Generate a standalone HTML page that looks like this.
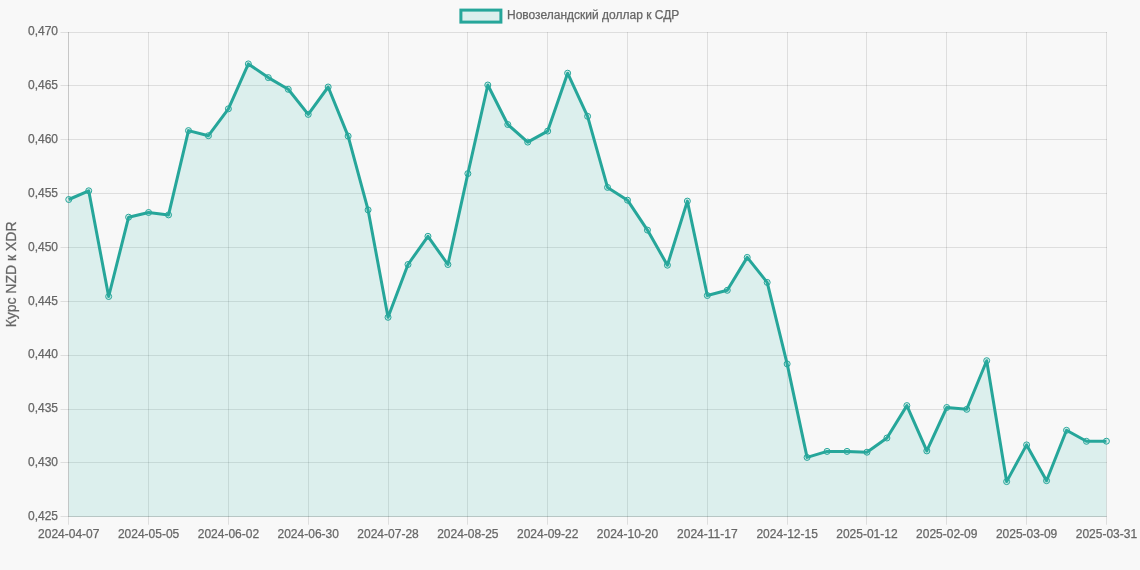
<!DOCTYPE html>
<html><head><meta charset="utf-8"><style>
html,body{margin:0;padding:0;background:#f8f8f8;width:1140px;height:570px;overflow:hidden}
svg{display:block;will-change:transform}
.t{font-family:"Liberation Sans",sans-serif;font-size:12px;fill:#666;stroke:#666;stroke-width:0.25px}
.ti{font-family:"Liberation Sans",sans-serif;font-size:14px;fill:#666;stroke:#666;stroke-width:0.25px}
</style></head><body>
<svg width="1140" height="570" viewBox="0 0 1140 570">
<rect x="0" y="0" width="1140" height="570" fill="#f8f8f8"/>
<rect x="60.5" y="32" width="1046.5" height="1" fill="rgba(0,0,0,0.1)"/>
<rect x="60.5" y="85" width="1046.5" height="1" fill="rgba(0,0,0,0.1)"/>
<rect x="60.5" y="139" width="1046.5" height="1" fill="rgba(0,0,0,0.1)"/>
<rect x="60.5" y="193" width="1046.5" height="1" fill="rgba(0,0,0,0.1)"/>
<rect x="60.5" y="247" width="1046.5" height="1" fill="rgba(0,0,0,0.1)"/>
<rect x="60.5" y="301" width="1046.5" height="1" fill="rgba(0,0,0,0.1)"/>
<rect x="60.5" y="355" width="1046.5" height="1" fill="rgba(0,0,0,0.1)"/>
<rect x="60.5" y="409" width="1046.5" height="1" fill="rgba(0,0,0,0.1)"/>
<rect x="60.5" y="462" width="1046.5" height="1" fill="rgba(0,0,0,0.1)"/>
<rect x="60.5" y="516" width="1046.5" height="1" fill="rgba(0,0,0,0.1)"/>
<rect x="68" y="32" width="1" height="492.75" fill="rgba(0,0,0,0.1)"/>
<rect x="148" y="32" width="1" height="492.75" fill="rgba(0,0,0,0.1)"/>
<rect x="228" y="32" width="1" height="492.75" fill="rgba(0,0,0,0.1)"/>
<rect x="308" y="32" width="1" height="492.75" fill="rgba(0,0,0,0.1)"/>
<rect x="388" y="32" width="1" height="492.75" fill="rgba(0,0,0,0.1)"/>
<rect x="467" y="32" width="1" height="492.75" fill="rgba(0,0,0,0.1)"/>
<rect x="547" y="32" width="1" height="492.75" fill="rgba(0,0,0,0.1)"/>
<rect x="627" y="32" width="1" height="492.75" fill="rgba(0,0,0,0.1)"/>
<rect x="707" y="32" width="1" height="492.75" fill="rgba(0,0,0,0.1)"/>
<rect x="787" y="32" width="1" height="492.75" fill="rgba(0,0,0,0.1)"/>
<rect x="866" y="32" width="1" height="492.75" fill="rgba(0,0,0,0.1)"/>
<rect x="946" y="32" width="1" height="492.75" fill="rgba(0,0,0,0.1)"/>
<rect x="1026" y="32" width="1" height="492.75" fill="rgba(0,0,0,0.1)"/>
<rect x="1106" y="32" width="1" height="492.75" fill="rgba(0,0,0,0.1)"/>
<rect x="68" y="32.08" width="1" height="484.69" fill="rgba(0,0,0,0.1)"/>
<rect x="68.76" y="516" width="1037.66" height="1" fill="rgba(0,0,0,0.1)"/>
<polygon points="68.76,516.775 68.76,199.50 88.72,190.80 108.67,296.50 128.62,217.20 148.58,212.50 168.53,214.90 188.49,130.60 208.44,135.70 228.40,108.80 248.35,63.90 268.31,77.60 288.26,89.30 308.22,114.40 328.17,87.00 348.13,136.10 368.08,209.90 388.04,317.30 407.99,264.50 427.95,236.30 447.90,264.50 467.86,173.60 487.81,85.00 507.77,124.50 527.73,142.10 547.68,131.10 567.63,73.20 587.59,116.30 607.54,187.40 627.50,200.20 647.45,230.10 667.41,265.20 687.36,201.10 707.32,295.50 727.27,290.30 747.23,257.40 767.18,282.40 787.14,363.90 807.09,457.40 827.05,451.40 847.00,451.40 866.96,452.20 886.91,438.00 906.87,405.60 926.82,450.90 946.78,407.50 966.73,409.30 986.69,360.70 1006.64,481.60 1026.60,444.90 1046.56,480.70 1066.51,430.30 1086.46,441.30 1106.42,441.20 1106.42,516.775" fill="rgba(61,188,175,0.15)"/>
<polyline points="68.76,199.50 88.72,190.80 108.67,296.50 128.62,217.20 148.58,212.50 168.53,214.90 188.49,130.60 208.44,135.70 228.40,108.80 248.35,63.90 268.31,77.60 288.26,89.30 308.22,114.40 328.17,87.00 348.13,136.10 368.08,209.90 388.04,317.30 407.99,264.50 427.95,236.30 447.90,264.50 467.86,173.60 487.81,85.00 507.77,124.50 527.73,142.10 547.68,131.10 567.63,73.20 587.59,116.30 607.54,187.40 627.50,200.20 647.45,230.10 667.41,265.20 687.36,201.10 707.32,295.50 727.27,290.30 747.23,257.40 767.18,282.40 787.14,363.90 807.09,457.40 827.05,451.40 847.00,451.40 866.96,452.20 886.91,438.00 906.87,405.60 926.82,450.90 946.78,407.50 966.73,409.30 986.69,360.70 1006.64,481.60 1026.60,444.90 1046.56,480.70 1066.51,430.30 1086.46,441.30 1106.42,441.20" fill="none" stroke="rgb(38,166,154)" stroke-width="3" stroke-linejoin="round"/>
<circle cx="68.76" cy="199.50" r="3" fill="rgba(61,188,175,0.15)" stroke="rgb(38,166,154)" stroke-width="1"/>
<circle cx="88.72" cy="190.80" r="3" fill="rgba(61,188,175,0.15)" stroke="rgb(38,166,154)" stroke-width="1"/>
<circle cx="108.67" cy="296.50" r="3" fill="rgba(61,188,175,0.15)" stroke="rgb(38,166,154)" stroke-width="1"/>
<circle cx="128.62" cy="217.20" r="3" fill="rgba(61,188,175,0.15)" stroke="rgb(38,166,154)" stroke-width="1"/>
<circle cx="148.58" cy="212.50" r="3" fill="rgba(61,188,175,0.15)" stroke="rgb(38,166,154)" stroke-width="1"/>
<circle cx="168.53" cy="214.90" r="3" fill="rgba(61,188,175,0.15)" stroke="rgb(38,166,154)" stroke-width="1"/>
<circle cx="188.49" cy="130.60" r="3" fill="rgba(61,188,175,0.15)" stroke="rgb(38,166,154)" stroke-width="1"/>
<circle cx="208.44" cy="135.70" r="3" fill="rgba(61,188,175,0.15)" stroke="rgb(38,166,154)" stroke-width="1"/>
<circle cx="228.40" cy="108.80" r="3" fill="rgba(61,188,175,0.15)" stroke="rgb(38,166,154)" stroke-width="1"/>
<circle cx="248.35" cy="63.90" r="3" fill="rgba(61,188,175,0.15)" stroke="rgb(38,166,154)" stroke-width="1"/>
<circle cx="268.31" cy="77.60" r="3" fill="rgba(61,188,175,0.15)" stroke="rgb(38,166,154)" stroke-width="1"/>
<circle cx="288.26" cy="89.30" r="3" fill="rgba(61,188,175,0.15)" stroke="rgb(38,166,154)" stroke-width="1"/>
<circle cx="308.22" cy="114.40" r="3" fill="rgba(61,188,175,0.15)" stroke="rgb(38,166,154)" stroke-width="1"/>
<circle cx="328.17" cy="87.00" r="3" fill="rgba(61,188,175,0.15)" stroke="rgb(38,166,154)" stroke-width="1"/>
<circle cx="348.13" cy="136.10" r="3" fill="rgba(61,188,175,0.15)" stroke="rgb(38,166,154)" stroke-width="1"/>
<circle cx="368.08" cy="209.90" r="3" fill="rgba(61,188,175,0.15)" stroke="rgb(38,166,154)" stroke-width="1"/>
<circle cx="388.04" cy="317.30" r="3" fill="rgba(61,188,175,0.15)" stroke="rgb(38,166,154)" stroke-width="1"/>
<circle cx="407.99" cy="264.50" r="3" fill="rgba(61,188,175,0.15)" stroke="rgb(38,166,154)" stroke-width="1"/>
<circle cx="427.95" cy="236.30" r="3" fill="rgba(61,188,175,0.15)" stroke="rgb(38,166,154)" stroke-width="1"/>
<circle cx="447.90" cy="264.50" r="3" fill="rgba(61,188,175,0.15)" stroke="rgb(38,166,154)" stroke-width="1"/>
<circle cx="467.86" cy="173.60" r="3" fill="rgba(61,188,175,0.15)" stroke="rgb(38,166,154)" stroke-width="1"/>
<circle cx="487.81" cy="85.00" r="3" fill="rgba(61,188,175,0.15)" stroke="rgb(38,166,154)" stroke-width="1"/>
<circle cx="507.77" cy="124.50" r="3" fill="rgba(61,188,175,0.15)" stroke="rgb(38,166,154)" stroke-width="1"/>
<circle cx="527.73" cy="142.10" r="3" fill="rgba(61,188,175,0.15)" stroke="rgb(38,166,154)" stroke-width="1"/>
<circle cx="547.68" cy="131.10" r="3" fill="rgba(61,188,175,0.15)" stroke="rgb(38,166,154)" stroke-width="1"/>
<circle cx="567.63" cy="73.20" r="3" fill="rgba(61,188,175,0.15)" stroke="rgb(38,166,154)" stroke-width="1"/>
<circle cx="587.59" cy="116.30" r="3" fill="rgba(61,188,175,0.15)" stroke="rgb(38,166,154)" stroke-width="1"/>
<circle cx="607.54" cy="187.40" r="3" fill="rgba(61,188,175,0.15)" stroke="rgb(38,166,154)" stroke-width="1"/>
<circle cx="627.50" cy="200.20" r="3" fill="rgba(61,188,175,0.15)" stroke="rgb(38,166,154)" stroke-width="1"/>
<circle cx="647.45" cy="230.10" r="3" fill="rgba(61,188,175,0.15)" stroke="rgb(38,166,154)" stroke-width="1"/>
<circle cx="667.41" cy="265.20" r="3" fill="rgba(61,188,175,0.15)" stroke="rgb(38,166,154)" stroke-width="1"/>
<circle cx="687.36" cy="201.10" r="3" fill="rgba(61,188,175,0.15)" stroke="rgb(38,166,154)" stroke-width="1"/>
<circle cx="707.32" cy="295.50" r="3" fill="rgba(61,188,175,0.15)" stroke="rgb(38,166,154)" stroke-width="1"/>
<circle cx="727.27" cy="290.30" r="3" fill="rgba(61,188,175,0.15)" stroke="rgb(38,166,154)" stroke-width="1"/>
<circle cx="747.23" cy="257.40" r="3" fill="rgba(61,188,175,0.15)" stroke="rgb(38,166,154)" stroke-width="1"/>
<circle cx="767.18" cy="282.40" r="3" fill="rgba(61,188,175,0.15)" stroke="rgb(38,166,154)" stroke-width="1"/>
<circle cx="787.14" cy="363.90" r="3" fill="rgba(61,188,175,0.15)" stroke="rgb(38,166,154)" stroke-width="1"/>
<circle cx="807.09" cy="457.40" r="3" fill="rgba(61,188,175,0.15)" stroke="rgb(38,166,154)" stroke-width="1"/>
<circle cx="827.05" cy="451.40" r="3" fill="rgba(61,188,175,0.15)" stroke="rgb(38,166,154)" stroke-width="1"/>
<circle cx="847.00" cy="451.40" r="3" fill="rgba(61,188,175,0.15)" stroke="rgb(38,166,154)" stroke-width="1"/>
<circle cx="866.96" cy="452.20" r="3" fill="rgba(61,188,175,0.15)" stroke="rgb(38,166,154)" stroke-width="1"/>
<circle cx="886.91" cy="438.00" r="3" fill="rgba(61,188,175,0.15)" stroke="rgb(38,166,154)" stroke-width="1"/>
<circle cx="906.87" cy="405.60" r="3" fill="rgba(61,188,175,0.15)" stroke="rgb(38,166,154)" stroke-width="1"/>
<circle cx="926.82" cy="450.90" r="3" fill="rgba(61,188,175,0.15)" stroke="rgb(38,166,154)" stroke-width="1"/>
<circle cx="946.78" cy="407.50" r="3" fill="rgba(61,188,175,0.15)" stroke="rgb(38,166,154)" stroke-width="1"/>
<circle cx="966.73" cy="409.30" r="3" fill="rgba(61,188,175,0.15)" stroke="rgb(38,166,154)" stroke-width="1"/>
<circle cx="986.69" cy="360.70" r="3" fill="rgba(61,188,175,0.15)" stroke="rgb(38,166,154)" stroke-width="1"/>
<circle cx="1006.64" cy="481.60" r="3" fill="rgba(61,188,175,0.15)" stroke="rgb(38,166,154)" stroke-width="1"/>
<circle cx="1026.60" cy="444.90" r="3" fill="rgba(61,188,175,0.15)" stroke="rgb(38,166,154)" stroke-width="1"/>
<circle cx="1046.56" cy="480.70" r="3" fill="rgba(61,188,175,0.15)" stroke="rgb(38,166,154)" stroke-width="1"/>
<circle cx="1066.51" cy="430.30" r="3" fill="rgba(61,188,175,0.15)" stroke="rgb(38,166,154)" stroke-width="1"/>
<circle cx="1086.46" cy="441.30" r="3" fill="rgba(61,188,175,0.15)" stroke="rgb(38,166,154)" stroke-width="1"/>
<circle cx="1106.42" cy="441.20" r="3" fill="rgba(61,188,175,0.15)" stroke="rgb(38,166,154)" stroke-width="1"/>
<text x="58" y="35.28" text-anchor="end" class="t">0,470</text>
<text x="58" y="89.14" text-anchor="end" class="t">0,465</text>
<text x="58" y="142.99" text-anchor="end" class="t">0,460</text>
<text x="58" y="196.84" text-anchor="end" class="t">0,455</text>
<text x="58" y="250.70" text-anchor="end" class="t">0,450</text>
<text x="58" y="304.55" text-anchor="end" class="t">0,445</text>
<text x="58" y="358.41" text-anchor="end" class="t">0,440</text>
<text x="58" y="412.26" text-anchor="end" class="t">0,435</text>
<text x="58" y="466.12" text-anchor="end" class="t">0,430</text>
<text x="58" y="519.98" text-anchor="end" class="t">0,425</text>
<text x="68.76" y="538" text-anchor="middle" class="t">2024-04-07</text>
<text x="148.58" y="538" text-anchor="middle" class="t">2024-05-05</text>
<text x="228.40" y="538" text-anchor="middle" class="t">2024-06-02</text>
<text x="308.22" y="538" text-anchor="middle" class="t">2024-06-30</text>
<text x="388.04" y="538" text-anchor="middle" class="t">2024-07-28</text>
<text x="467.86" y="538" text-anchor="middle" class="t">2024-08-25</text>
<text x="547.68" y="538" text-anchor="middle" class="t">2024-09-22</text>
<text x="627.50" y="538" text-anchor="middle" class="t">2024-10-20</text>
<text x="707.32" y="538" text-anchor="middle" class="t">2024-11-17</text>
<text x="787.14" y="538" text-anchor="middle" class="t">2024-12-15</text>
<text x="866.96" y="538" text-anchor="middle" class="t">2025-01-12</text>
<text x="946.78" y="538" text-anchor="middle" class="t">2025-02-09</text>
<text x="1026.60" y="538" text-anchor="middle" class="t">2025-03-09</text>
<text x="1106.42" y="538" text-anchor="middle" class="t">2025-03-31</text>
<text transform="translate(16,274.4) rotate(-90)" text-anchor="middle" class="ti">Курс NZD к XDR</text>
<rect x="460.9" y="10.1" width="40" height="12" fill="rgba(61,188,175,0.15)" stroke="rgb(38,166,154)" stroke-width="3"/>
<text x="507" y="19" class="t">Новозеландский доллар к СДР</text>
</svg>
</body></html>
